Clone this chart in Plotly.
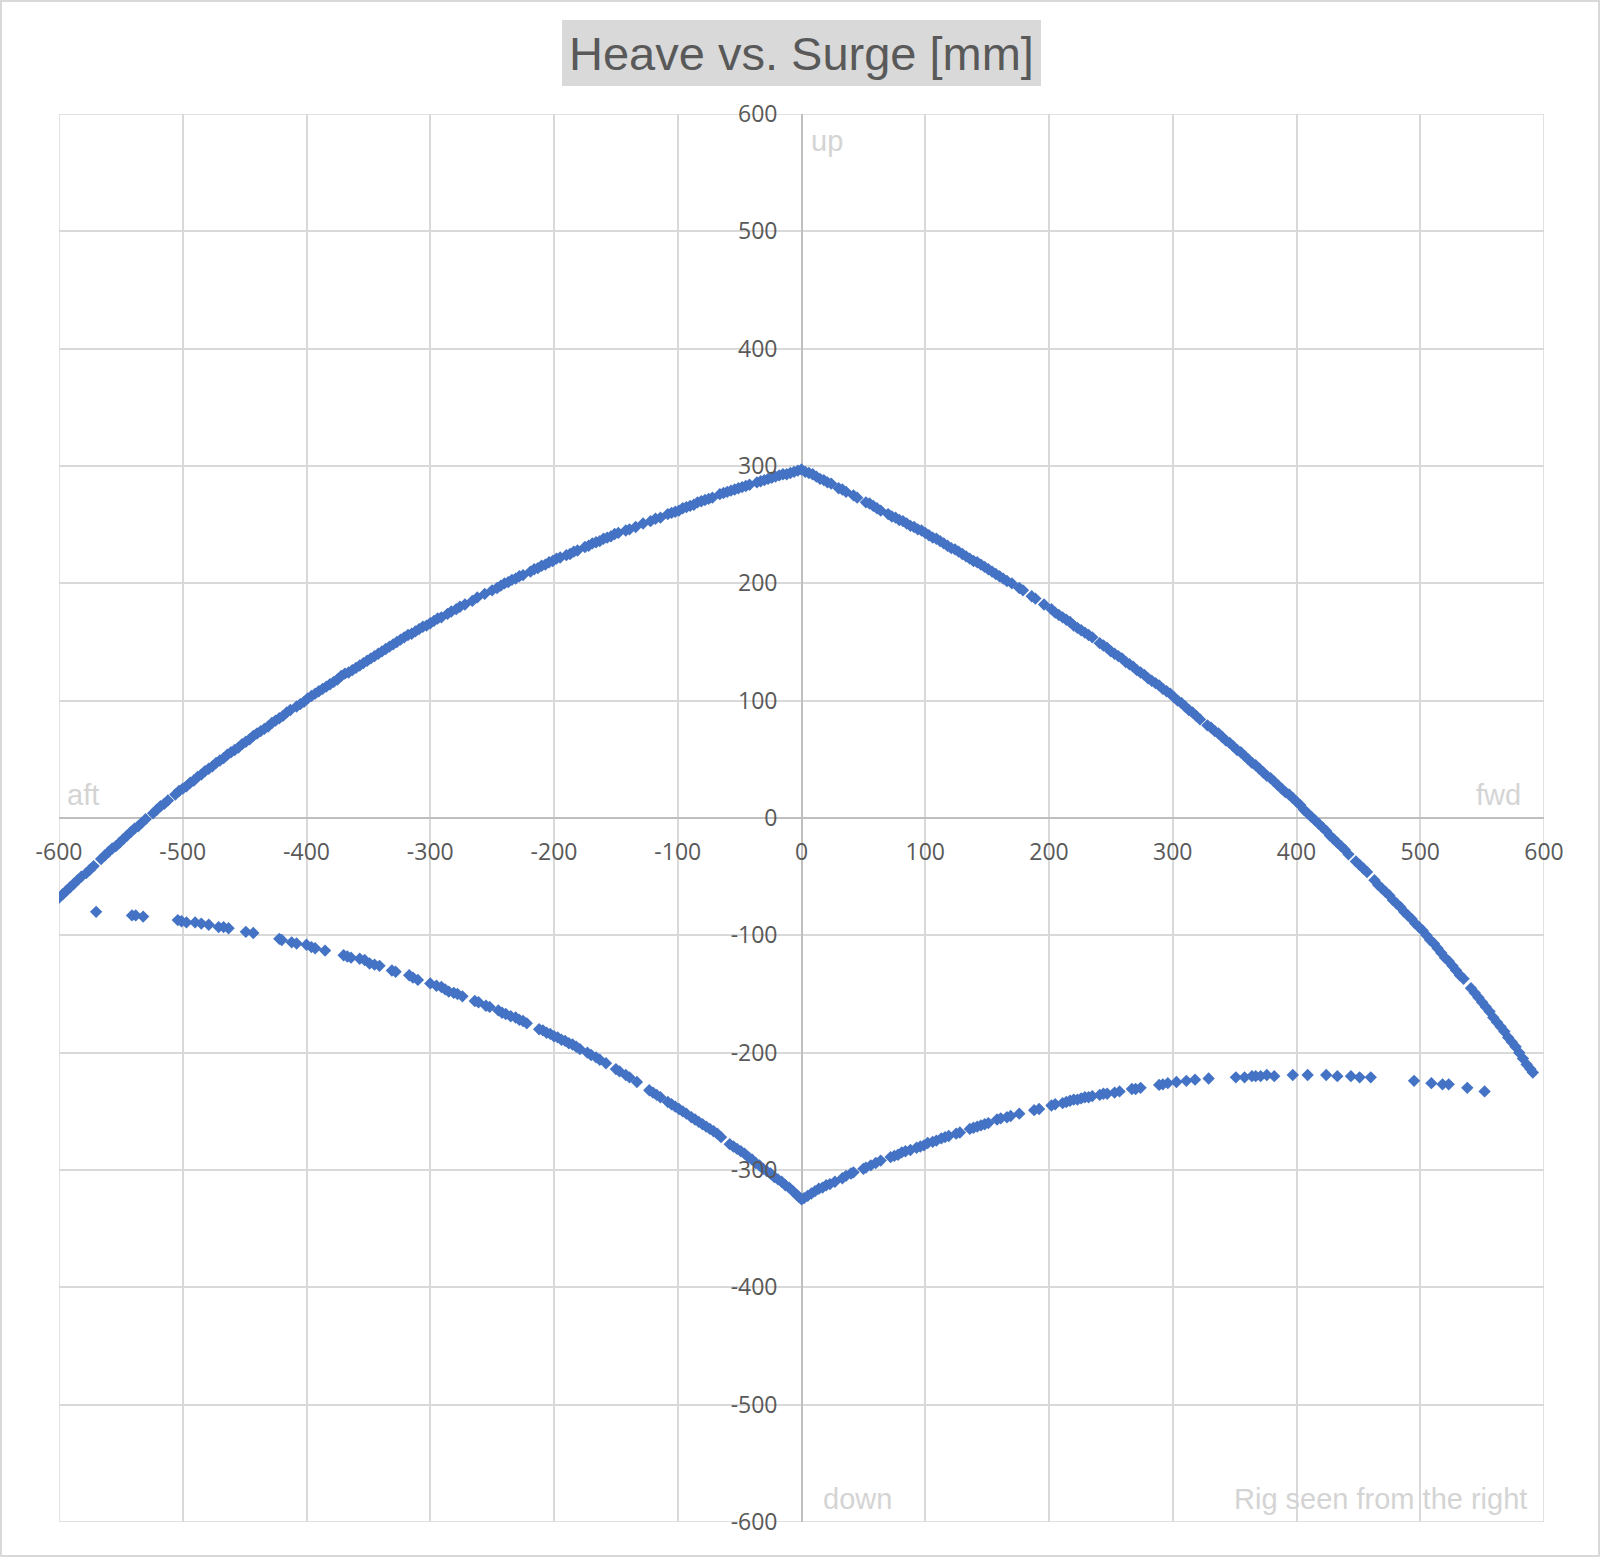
import plotly.graph_objects as go

# ---------------- data (surge x [mm], heave y [mm]) ----------------
upper_aft = [
    (-600, -68), (-597, -65), (-594, -62), (-591, -59), (-588, -56), (-585, -53), (-582, -50),
    (-578, -47), (-575, -44), (-572, -41), (-566, -35), (-563, -32), (-560, -29), (-557, -26),
    (-554, -24), (-551, -21), (-548, -18), (-545, -15), (-542, -12), (-539, -9), (-536, -7),
    (-533, -4), (-530, -1), (-524, 4), (-521, 7), (-518, 10), (-515, 12), (-512, 15), (-506, 20),
    (-503, 23), (-500, 25), (-497, 27), (-494, 30), (-491, 32), (-488, 35), (-485, 37), (-482, 40),
    (-479, 42), (-476, 44), (-473, 47), (-470, 49), (-467, 51), (-464, 54), (-461, 56), (-458, 58),
    (-455, 60), (-452, 63), (-449, 65), (-446, 67), (-443, 70), (-440, 72), (-437, 74), (-434, 76),
    (-431, 78), (-428, 81), (-425, 83), (-422, 85), (-419, 87), (-416, 90), (-413, 92), (-408, 95),
    (-405, 97), (-402, 99), (-399, 102), (-396, 104), (-393, 106), (-390, 108), (-387, 110),
    (-384, 112), (-381, 114), (-378, 116), (-375, 118), (-372, 121), (-369, 123), (-366, 124),
    (-363, 126), (-360, 128), (-357, 130), (-354, 132), (-351, 134), (-348, 136), (-345, 138),
    (-342, 140), (-339, 142), (-336, 144), (-333, 146), (-330, 148), (-327, 150), (-324, 152),
    (-321, 154), (-318, 156), (-315, 157), (-312, 159), (-309, 161), (-306, 163), (-303, 164),
    (-300, 166), (-297, 168), (-294, 170), (-291, 171), (-286, 174), (-283, 176), (-279, 178),
    (-276, 180), (-272, 182), (-266, 185), (-262, 188), (-256, 191), (-250, 194), (-246, 196),
    (-243, 198), (-240, 200), (-237, 201), (-234, 203), (-231, 204), (-228, 206), (-225, 207),
    (-219, 210), (-216, 212), (-213, 213), (-210, 215), (-207, 216), (-204, 218), (-201, 219),
    (-198, 221), (-195, 222), (-190, 224), (-187, 225), (-184, 227), (-181, 228), (-175, 231),
    (-172, 232), (-169, 234), (-166, 235), (-163, 236), (-160, 238), (-157, 239), (-154, 240),
    (-151, 242), (-148, 243), (-142, 245), (-139, 246), (-134, 248), (-128, 251), (-122, 253),
    (-118, 255), (-114, 256), (-108, 259), (-105, 260), (-102, 261), (-99, 262), (-96, 264),
    (-93, 265), (-90, 266), (-87, 267), (-84, 269), (-81, 270), (-78, 271), (-75, 272), (-72, 273),
    (-66, 276), (-63, 277), (-60, 278), (-57, 279), (-54, 280), (-51, 281), (-48, 282), (-45, 283),
    (-42, 284), (-36, 286), (-33, 287), (-30, 288), (-27, 289), (-24, 290), (-21, 291), (-18, 292),
    (-15, 293), (-12, 293), (-9, 294), (-6, 295), (-3, 296), (0, 297),
]

upper_fwd = [
    (3, 295), (6, 294), (9, 293), (12, 291), (15, 289), (18, 288), (21, 286), (24, 285), (30, 281),
    (33, 280), (36, 278), (42, 275), (45, 273), (52, 269), (55, 268), (58, 266), (61, 264),
    (64, 262), (70, 259), (73, 257), (76, 256), (79, 254), (82, 253), (85, 251), (88, 249),
    (91, 248), (94, 246), (97, 245), (100, 243), (103, 241), (106, 239), (109, 238), (112, 236),
    (115, 234), (118, 232), (121, 230), (124, 229), (127, 227), (130, 225), (133, 223), (136, 221),
    (139, 219), (142, 218), (145, 216), (148, 214), (151, 212), (154, 210), (157, 208), (160, 206),
    (163, 204), (166, 202), (170, 200), (176, 196), (179, 194), (186, 189), (189, 187), (196, 182),
    (202, 178), (205, 175), (208, 173), (211, 171), (214, 169), (217, 167), (220, 164), (223, 162),
    (226, 160), (229, 158), (232, 156), (235, 154), (241, 149), (244, 147), (247, 145), (250, 142),
    (253, 140), (256, 138), (259, 136), (262, 133), (265, 131), (268, 129), (271, 126), (274, 124),
    (277, 122), (280, 119), (283, 117), (286, 115), (289, 113), (292, 110), (295, 108), (298, 106),
    (301, 103), (304, 100), (307, 98), (310, 95), (313, 92), (316, 90), (319, 87), (322, 84),
    (328, 79), (331, 77), (334, 74), (337, 72), (340, 69), (343, 66), (346, 64), (349, 61),
    (352, 58), (355, 56), (358, 53), (361, 50), (364, 47), (367, 45), (370, 42), (373, 39),
    (376, 36), (379, 34), (382, 31), (385, 28), (388, 25), (391, 22), (394, 20), (397, 17),
    (400, 14), (403, 11), (406, 7), (409, 4), (412, 1), (415, -2), (418, -5), (421, -8),
    (424, -11), (427, -15), (430, -18), (433, -21), (436, -24), (439, -27), (442, -31), (448, -37),
    (451, -40), (454, -43), (457, -46), (463, -53), (466, -57), (469, -60), (472, -63), (475, -66),
    (478, -70), (481, -73), (484, -76), (487, -80), (490, -83), (493, -86), (496, -90), (499, -93),
    (502, -96), (505, -100), (508, -104), (511, -107), (514, -111), (517, -115), (520, -119),
    (523, -122), (526, -126), (529, -130), (532, -134), (535, -137), (541, -145), (544, -149),
    (547, -153), (550, -157), (553, -161), (556, -165), (559, -170), (562, -174), (565, -178),
    (568, -182), (571, -187), (574, -191), (577, -195), (580, -200), (583, -205), (586, -210),
    (589, -214), (591, -217),
]

lower_aft = [
    (-570, -80), (-541, -83), (-538, -83), (-532, -84), (-504, -87), (-501, -88), (-497, -89),
    (-490, -89), (-485, -90), (-479, -91), (-471, -93), (-467, -93), (-463, -94), (-449, -97),
    (-443, -98), (-422, -103), (-420, -104), (-412, -106), (-408, -107), (-400, -108), (-396, -110),
    (-393, -111), (-385, -113), (-370, -117), (-367, -118), (-364, -119), (-357, -120), (-353, -121),
    (-349, -124), (-345, -125), (-341, -126), (-331, -130), (-328, -131), (-317, -134), (-314, -136),
    (-310, -138), (-300, -141), (-295, -143), (-291, -144), (-288, -146), (-285, -148), (-281, -149),
    (-278, -150), (-274, -152), (-264, -156), (-261, -157), (-255, -160), (-252, -161), (-245, -164),
    (-242, -166), (-239, -167), (-235, -169), (-231, -170), (-228, -172), (-225, -173), (-222, -175),
    (-212, -180), (-209, -181), (-206, -183), (-203, -184), (-200, -186), (-197, -187), (-194, -189),
    (-191, -190), (-188, -192), (-185, -193), (-182, -195), (-179, -197), (-173, -200), (-170, -202),
    (-166, -204), (-163, -206), (-158, -209), (-150, -214), (-147, -216), (-142, -219), (-139, -221),
    (-133, -225), (-123, -232), (-120, -234), (-117, -236), (-114, -238), (-108, -242), (-105, -244),
    (-102, -246), (-99, -248), (-96, -250), (-93, -252), (-89, -255), (-86, -257), (-83, -259),
    (-80, -261), (-77, -263), (-74, -265), (-71, -267), (-68, -269), (-65, -272), (-58, -278),
    (-55, -280), (-52, -282), (-49, -284), (-46, -286), (-43, -289), (-40, -291), (-37, -294),
    (-34, -296), (-31, -299), (-28, -301), (-25, -303), (-22, -306), (-19, -308), (-16, -310),
    (-13, -313), (-10, -315), (-7, -318), (-4, -321), (-2, -323), (0, -325),
]

lower_fwd = [
    (2, -324), (5, -322), (8, -320), (11, -318), (14, -316), (17, -315), (20, -313), (23, -312),
    (27, -310), (33, -307), (36, -305), (40, -303), (42, -302), (50, -299), (52, -298), (56, -296),
    (60, -294), (64, -292), (72, -289), (75, -288), (78, -287), (81, -285), (84, -284), (88, -283),
    (93, -281), (96, -280), (99, -279), (102, -277), (106, -276), (109, -275), (113, -273),
    (116, -272), (119, -271), (125, -269), (128, -268), (136, -265), (139, -264), (142, -263),
    (145, -262), (148, -261), (151, -260), (158, -257), (161, -256), (166, -255), (169, -254),
    (176, -252), (188, -249), (192, -248), (202, -245), (205, -244), (211, -243), (214, -242),
    (217, -241), (220, -240), (223, -240), (226, -239), (229, -238), (232, -238), (235, -237),
    (241, -236), (244, -235), (247, -235), (253, -234), (257, -233), (267, -231), (270, -231),
    (274, -230), (289, -227.5), (292, -227), (296, -226), (303, -225), (311, -224), (318, -223),
    (329, -222), (351, -221), (358, -221), (364, -220), (367, -220), (371, -220), (376, -219),
    (382, -220), (397, -219), (409, -219), (424, -219), (433, -220), (444, -220), (451, -221),
    (460, -221), (495, -224), (509, -226), (518, -227), (523, -227), (538, -230), (552, -233),
]

tick_vals = [-600, -500, -400, -300, -200, -100, 0, 100, 200, 300, 400, 500, 600]
title_text = "Heave vs. Surge [mm]"
corner_labels = ["up", "down", "aft", "fwd", "Rig seen from the right"]

# ---------------- figure ----------------
W, H = 1600, 1557
L, R, T, B = 59, 56, 114, 35
PW, PH = W - L - R, H - T - B


def px_to_paper(px, py):
    return (px - L) / PW, (H - B - py) / PH


BLUE = "#4472C4"
GRID = "#d9d9d9"
TXT = "#595959"
LIGHT = "#d4d4d4"

fig = go.Figure()
for name, pts in [("upper_aft", upper_aft), ("upper_fwd", upper_fwd),
                  ("lower_aft", lower_aft), ("lower_fwd", lower_fwd)]:
    fig.add_trace(go.Scatter(
        x=[p[0] for p in pts], y=[p[1] for p in pts], mode="markers", name=name,
        marker=dict(symbol="diamond", size=9.5, color=BLUE, line=dict(width=0)),
        showlegend=False, hoverinfo="x+y",
    ))

axis_common = dict(
    range=[-600, 600], tickvals=tick_vals, ticktext=[str(v) for v in tick_vals],
    showgrid=True, gridcolor=GRID, gridwidth=1.5,
    zeroline=True, zerolinecolor="#bfbfbf", zerolinewidth=1.5,
    showline=False, ticks="", anchor="free", position=0.5,
    tickfont=dict(family="Open Sans", size=23, color=TXT),
    fixedrange=True,
)
fig.update_layout(
    width=W, height=H,
    margin=dict(l=L, r=R, t=T, b=B, pad=0),
    paper_bgcolor="white", plot_bgcolor="white",
    xaxis=dict(**axis_common, ticklabelstandoff=18),
    yaxis=dict(**axis_common, ticklabelstandoff=24),
)

# plot-area frame (outer gridlines)
fig.add_shape(type="rect", xref="x", yref="y", x0=-600, x1=600, y0=-600, y1=600,
              line=dict(color=GRID, width=1.5), layer="below")

# outer chart border
bx0, by0 = px_to_paper(1, H - 1)
bx1, by1 = px_to_paper(W - 1, 1)
fig.add_shape(type="rect", xref="paper", yref="paper", x0=bx0, x1=bx1, y0=by0, y1=by1,
              line=dict(color=GRID, width=2))

# title box
tx0, ty0 = px_to_paper(562, 86)
tx1, ty1 = px_to_paper(1041, 20)
fig.add_shape(type="rect", xref="paper", yref="paper", x0=tx0, x1=tx1, y0=ty0, y1=ty1,
              fillcolor="#d9d9d9", line=dict(width=0), layer="below")
tcx, tcy = px_to_paper(801.5, 53)
fig.add_annotation(text=title_text, xref="paper", yref="paper", x=tcx, y=tcy,
                   xanchor="center", yanchor="middle", showarrow=False,
                   font=dict(family="Liberation Sans", size=47, color=TXT))

# corner labels
lab_font = dict(family="Liberation Sans", size=29, color=LIGHT)
fig.add_annotation(text=corner_labels[0], x=6, y=577, xanchor="left", yanchor="middle",
                   showarrow=False, font=lab_font)
fig.add_annotation(text=corner_labels[1], x=16, y=-580, xanchor="left", yanchor="middle",
                   showarrow=False, font=lab_font)
fig.add_annotation(text=corner_labels[2], x=-595, y=20, xanchor="left", yanchor="middle",
                   showarrow=False, font=lab_font)
fig.add_annotation(text=corner_labels[3], x=583, y=20, xanchor="right", yanchor="middle",
                   showarrow=False, font=lab_font)
fig.add_annotation(text=corner_labels[4], x=588, y=-580, xanchor="right", yanchor="middle",
                   showarrow=False, font=lab_font)

fig.write_html(
    "out.html",
    config={"displayModeBar": False},
    post_script="document.body.style.margin='0';document.body.style.overflow='hidden';",
)
